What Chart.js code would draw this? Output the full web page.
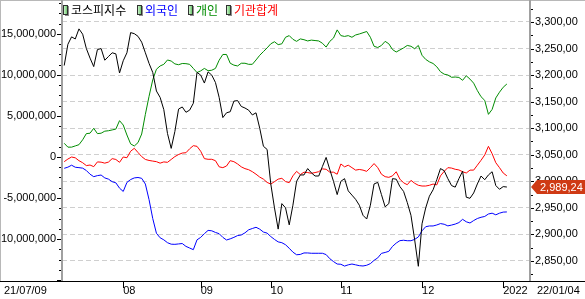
<!DOCTYPE html>
<html><head><meta charset="utf-8">
<script src="https://cdn.jsdelivr.net/npm/chart.js@4/dist/chart.umd.min.js"></script>
<style>html,body{margin:0;padding:0;background:#fff;overflow:hidden}#wrap{width:585px;height:299px}</style>
</head><body><div id="wrap"><canvas id="c" width="585" height="299"></canvas></div>
<script>
// ---- data ----
const startLabel = '21/07/09';
const endLabel = '22/01/04';
const monthTickIdx = [16, 37, 56, 75, 97, 119];
const monthTickLabels = ['08', '09', '10', '11', '12', '2022'];
const seriesNames = ['코스피지수', '외국인', '개인', '기관합계'];
const leftTicks = [-10e6, -5e6, 0, 5e6, 10e6, 15e6];
const rightTicks = [2850, 2900, 2950, 3000, 3050, 3100, 3150, 3200, 3250, 3300];

const kospi = [3218,3258,3272,3268,3287,3277,3250,3232,3216,3248,
3250,3228,3235,3242,3240,3204,3227,3242,3280,3278,
3273,3262,3242,3222,3205,3170,3158,3135,3090,3062,
3094,3136,3140,3130,3134,3147,3205,3200,3185,3206,
3200,3186,3158,3120,3129,3131,3151,3152,3141,3138,
3134,3125,3129,3100,3066,3060,2995,2950,2910,2958,
2950,2918,2955,3000,3012,3012,3024,3016,3010,3010,
3028,3045,3022,3000,2975,3000,3005,2982,2974,2966,
2955,2936,2929,2955,2995,2998,2975,2952,2958,3005,
3004,2990,2981,2960,2936,2890,2840,2920,2950,2972,
2984,3003,3024,3020,3005,2992,2989,3005,3019,2970,
2968,2978,2995,3010,3003,3012,3018,2992,2985,2990,2989.24];

const foreign = [-1.38e6,-1.24e6,-1.0e6,-1.25e6,-1.3e6,-1.36e6,-1.65e6,-2.1e6,-2.4e6,-2.27e6,
-2.2e6,-2.55e6,-2.7e6,-3.01e6,-3.15e6,-3.8e6,-4.2e6,-3.1e6,-2.75e6,-2.55e6,
-2.5e6,-2.6e6,-3.3e6,-5.2e6,-7.5e6,-9.3e6,-9.85e6,-10.1e6,-10.45e6,-10.63e6,
-10.65e6,-10.6e6,-10.55e6,-10.9e6,-11.1e6,-11.3e6,-10.1e6,-9.8e6,-9.35e6,-8.95e6,
-9.0e6,-9.2e6,-9.35e6,-9.8e6,-10.12e6,-9.98e6,-9.8e6,-9.58e6,-9.51e6,-9.25e6,
-8.88e6,-8.72e6,-8.57e6,-8.8e6,-9.15e6,-9.28e6,-9.7e6,-10.05e6,-10.35e6,-10.45e6,
-10.7e6,-11.13e6,-11.6e6,-11.92e6,-11.88e6,-11.7e6,-11.7e6,-11.74e6,-11.74e6,-11.74e6,
-11.74e6,-11.9e6,-12.4e6,-12.75e6,-13.05e6,-13.08e6,-13.3e6,-13.15e6,-13.05e6,-13.15e6,
-13.25e6,-13.29e6,-13.2e6,-13.0e6,-12.6e6,-12.3e6,-11.75e6,-11.64e6,-11.5e6,-10.9e6,
-10.5e6,-10.2e6,-10.15e6,-10.21e6,-10.21e6,-10.05e6,-9.75e6,-9.0e6,-8.5e6,-8.41e6,
-8.41e6,-8.29e6,-8.12e6,-8.2e6,-8.4e6,-8.3e6,-8.18e6,-8.0e6,-7.6e6,-7.9e6,
-8.05e6,-7.75e6,-7.5e6,-7.35e6,-7.25e6,-6.95e6,-6.85e6,-7.05e6,-6.85e6,-6.72e6,-6.7e6];

const individual = [1.67e6,1.2e6,1.2e6,1.35e6,1.5e6,2.1e6,2.85e6,2.9e6,3.5e6,2.85e6,
2.9e6,3.15e6,3.2e6,3.3e6,3.4e6,4.43e6,3.9e6,2.68e6,1.6e6,1.34e6,
1.75e6,2.8e6,5.2e6,7.4e6,9.4e6,10.7e6,11.1e6,11.3e6,11.83e6,11.7e6,
11.35e6,11.25e6,11.4e6,11.38e6,11.3e6,10.8e6,10.3e6,10.5e6,10.8e6,10.52e6,
10.58e6,10.8e6,11.8e6,12.5e6,12.5e6,11.43e6,11.2e6,11.1e6,11.43e6,11.43e6,
11.3e6,11.3e6,11.83e6,12.4e6,12.85e6,13.3e6,13.8e6,14.05e6,13.7e6,13.8e6,
14.6e6,14.8e6,14.35e6,14.1e6,14.4e6,14.3e6,14.15e6,14.25e6,14.2e6,14.15e6,
13.87e6,13.4e6,14.1e6,14.5e6,15.5e6,14.8e6,14.7e6,14.8e6,14.6e6,14.88e6,
15.0e6,15.15e6,15.3e6,14.6e6,13.5e6,13.35e6,13.6e6,14.1e6,13.8e6,13.1e6,
12.8e6,13.05e6,13.3e6,13.6e6,13.5e6,13.2e6,13.6e6,12.4e6,11.9e6,11.6e6,
11.4e6,11.0e6,10.4e6,10.1e6,10.0e6,9.72e6,9.75e6,9.7e6,9.35e6,9.9e6,
9.5e6,9.0e6,8.1e6,7.35e6,6.9e6,5.2e6,5.8e6,7.2e6,7.9e6,8.5e6,8.9e6];

const institution = [-0.57e6,-0.25e6,0.0,-0.1e6,-0.45e6,-0.7e6,-1.05e6,-0.98e6,-1.18e6,-0.6e6,
-0.63e6,-0.75e6,-0.62e6,-0.2e6,-0.3e6,-0.65e6,0.0,-0.09e6,0.7e6,1.06e6,
0.55e6,0.05e6,-0.3e6,-0.42e6,-0.5e6,-0.57e6,-0.75e6,-0.6e6,-0.65e6,-0.3e6,
0.05e6,0.3e6,0.48e6,0.52e6,1.0e6,1.38e6,1.3e6,0.7e6,-0.2e6,-0.28e6,
-0.28e6,-0.45e6,-1.2e6,-1.3e6,-1.1e6,-0.45e6,-0.57e6,-0.85e6,-1.2e6,-1.42e6,
-1.55e6,-1.79e6,-2.1e6,-2.45e6,-2.7e6,-3.1e6,-3.3e6,-3.01e6,-2.7e6,-2.6e6,
-3.0e6,-3.13e6,-2.3e6,-1.75e6,-2.15e6,-1.85e6,-1.9e6,-1.99e6,-1.9e6,-1.79e6,
-1.45e6,-1.5e6,-1.85e6,-1.85e6,-2.1e6,-0.85e6,-1.2e6,-1.0e6,-1.3e6,-1.6e6,
-1.52e6,-1.6e6,-1.75e6,-1.3e6,-0.8e6,-1.3e6,-2.1e6,-2.4e6,-2.48e6,-2.3e6,
-1.8e6,-2.7e6,-3.15e6,-3.38e6,-2.85e6,-3.2e6,-3.45e6,-3.54e6,-3.54e6,-3.45e6,
-3.3e6,-3.4e6,-2.3e6,-1.75e6,-1.3e6,-1.35e6,-1.5e6,-1.58e6,-1.8e6,-1.95e6,
-1.6e6,-1.6e6,-1.0e6,-0.4e6,0.25e6,1.3e6,0.4e6,-0.7e6,-1.3e6,-1.95e6,-2.3e6];

// ---- helpers ----
const FAM = "'Liberation Sans', Arial, sans-serif";
const FSIZE = 11;
const pts = arr => arr.map((v, i) => ({x: i, y: v}));
function fmtR(v) {
  const s = Number(v).toFixed(2).split('.');
  return Number(s[0]).toLocaleString('en-US') + ',' + s[1];
}
const COLORS = ['#000000', '#0000ff', '#008c00', '#ff0000'];
const noPad = s => { s.paddingTop = 0; s.paddingBottom = 0; s.paddingLeft = 0; s.paddingRight = 0; };

const decor = {
  id: 'decor',
  afterDraw(chart) {
    const ctx = chart.ctx, ca = chart.chartArea;
    const xs = chart.scales.x, yl = chart.scales.yL, yr = chart.scales.yR;
    ctx.save();
    // outer frame
    ctx.fillStyle = '#b8b8b8';
    ctx.fillRect(0, 0, 1, ca.bottom);
    ctx.fillRect(0, 0, 585, 1);
    // side axis lines
    ctx.fillStyle = '#a0a0a0';
    ctx.fillRect(ca.left - 1, 0, 2, ca.bottom);
    ctx.fillRect(ca.right, 0, 2, ca.bottom);
    // bottom axis line
    ctx.fillStyle = '#000';
    ctx.fillRect(0, ca.bottom, 585, 1);
    // month ticks
    monthTickIdx.forEach(i => {
      const px = Math.round(xs.getPixelForValue(i));
      ctx.fillRect(px, ca.bottom + 1, 1, 6);
    });
    // left ticks (major + minor)
    for (let v = -15e6; v <= 19e6; v += 1.25e6) {
      const py = Math.round(yl.getPixelForValue(v));
      if (py < ca.top + 2 || py > ca.bottom - 1) continue;
      const major = Math.abs(v % 5e6) < 1;
      if (major) ctx.fillRect(ca.left - 5, py, 4, 1); else ctx.fillRect(ca.left - 3, py, 2, 1);
    }
    // right ticks
    for (let v = 2825; v <= 3325; v += 25) {
      const py = Math.round(yr.getPixelForValue(v));
      if (py < ca.top + 2 || py > ca.bottom - 1) continue;
      const major = v % 50 === 0;
      ctx.fillRect(ca.right + 2, py, major ? 3 : 2, 1);
    }
    // start / end date labels
    ctx.font = FSIZE + 'px ' + FAM;
    ctx.fillStyle = '#000';
    ctx.textBaseline = 'middle';
    ctx.textAlign = 'left';
    ctx.fillText(startLabel, 4, ca.bottom + 10);
    ctx.fillText(endLabel, ca.right + 8, ca.bottom + 10);
    // legend
    const lxs = [63, 137, 188, 226];
    ctx.font = "12px 'Noto Sans CJK KR', sans-serif";
    seriesNames.forEach((name, k) => {
      const lx = lxs[k];
      ctx.fillStyle = '#8c8c8c';
      ctx.fillRect(lx + 2, 6, 4, 10);
      const g = ctx.createLinearGradient(lx, 0, lx + 4, 0);
      g.addColorStop(0, '#e8ffe8'); g.addColorStop(1, '#70c870');
      ctx.fillStyle = g;
      ctx.fillRect(lx, 5, 4, 9);
      ctx.strokeStyle = '#303030'; ctx.lineWidth = 1;
      ctx.strokeRect(lx + 0.5, 5.5, 4, 9);
      ctx.fillStyle = COLORS[k];
      ctx.fillText(name, lx + 8, 10.5);
    });
    // current value tag for KOSPI
    const last = kospi[kospi.length - 1];
    const yv = Math.round(yr.getPixelForValue(last));
    ctx.fillStyle = '#cf3a14';
    ctx.beginPath();
    ctx.moveTo(ca.right + 2, yv);
    ctx.lineTo(ca.right + 8, yv - 7);
    ctx.lineTo(585, yv - 7);
    ctx.lineTo(585, yv + 7);
    ctx.lineTo(ca.right + 8, yv + 7);
    ctx.closePath();
    ctx.fill();
    ctx.fillStyle = '#fff';
    ctx.font = FSIZE + 'px ' + FAM;
    ctx.fillText(fmtR(last), ca.right + 11, yv + 1);
    ctx.restore();
  }
};

new Chart(document.getElementById('c'), {
  type: 'line',
  data: {
    datasets: [
      {label: seriesNames[0], data: pts(kospi), yAxisID: 'yR', borderColor: COLORS[0]},
      {label: seriesNames[1], data: pts(foreign), yAxisID: 'yL', borderColor: COLORS[1]},
      {label: seriesNames[2], data: pts(individual), yAxisID: 'yL', borderColor: COLORS[2]},
      {label: seriesNames[3], data: pts(institution), yAxisID: 'yL', borderColor: COLORS[3]}
    ]
  },
  options: {
    responsive: false,
    animation: false,
    devicePixelRatio: 1,
    layout: {padding: {top: 1, left: 0, right: 0, bottom: 0}},
    elements: {line: {borderWidth: 1, tension: 0}, point: {radius: 0}},
    plugins: {legend: {display: false}, tooltip: {enabled: false}},
    scales: {
      x: {
        type: 'linear', position: 'bottom', min: -0.6, max: 126,
        afterFit: s => { s.height = 18; noPad(s); },
        afterBuildTicks: s => { s.ticks = monthTickIdx.map(v => ({value: v})); },
        ticks: {
          align: 'start', padding: 3, color: '#000', maxRotation: 0, autoSkip: false,
          font: {family: FAM, size: FSIZE},
          callback: v => monthTickLabels[monthTickIdx.indexOf(v)]
        },
        grid: {drawOnChartArea: false, drawTicks: false},
        border: {display: false}
      },
      yL: {
        type: 'linear', position: 'left', min: -15.12e6, max: 19.02e6,
        afterFit: s => { s.width = 62; noPad(s); },
        afterBuildTicks: s => { s.ticks = leftTicks.map(v => ({value: v})); },
        ticks: {
          padding: 6, color: '#000', font: {family: FAM, size: FSIZE},
          callback: v => Number(v).toLocaleString('en-US')
        },
        grid: {drawOnChartArea: false, drawTicks: false},
        border: {display: false}
      },
      yR: {
        type: 'linear', position: 'right', min: 2812.3, max: 3339.5,
        afterFit: s => { s.width = 56; noPad(s); },
        afterBuildTicks: s => { s.ticks = rightTicks.map(v => ({value: v})); },
        ticks: {
          padding: 6, color: '#000', font: {family: FAM, size: FSIZE},
          callback: v => fmtR(v)
        },
        grid: {drawOnChartArea: true, drawTicks: false, color: '#cfcfcf', lineWidth: 1},
        border: {display: false, dash: [5, 3]}
      }
    }
  },
  plugins: [decor]
});
</script></body></html>
